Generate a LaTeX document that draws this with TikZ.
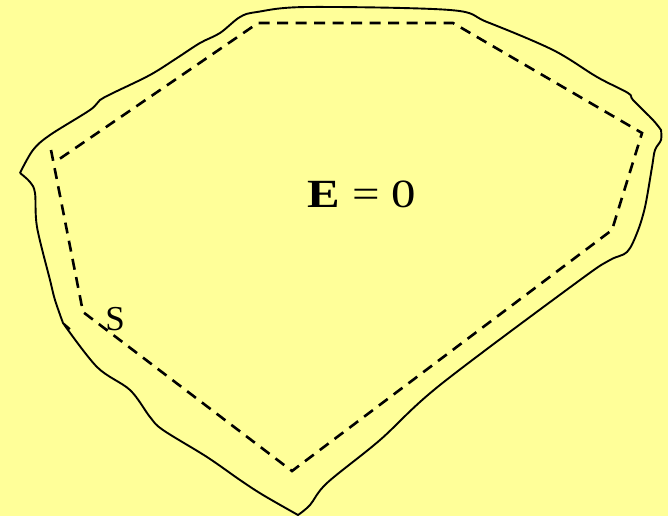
\documentclass[tikz,border=0pt]{standalone}
\usepackage{fontspec}
\setmainfont{Liberation Serif}
\usepackage{xcolor}
\definecolor{slidebg}{HTML}{FFFF99}

\begin{document}
\begin{tikzpicture}[
  x=1pt, y=-1pt,
  outline/.style={line width=1.9pt, line join=round},
  gauss/.style={line width=2.6pt, dash pattern=on 11pt off 7.5pt},
  tag/.style={inner sep=0pt, font=\fontsize{35}{42}\selectfont}
]
  \fill[slidebg] (0,0) rectangle (668,516);
  \useasboundingbox (0,0) rectangle (668,516);
  % hand drawn boundary of the conductor
  \draw[outline] plot[smooth, tension=.55] coordinates {(20,173) (33,150) (50,135) (90,110) (100,100)
      (113,93) (150,75) (177,58) (200,43) (220,33) (240,17) (257,12) (307,7) (450,10) (487,22)
      (553,50) (597,77) (628,93) (633,100) (653,120) (661,130)}
    -- plot[smooth, tension=.55] coordinates {(661,130) (661,140) (655,150) (652,167) (645,207)
      (637,233) (627,252) (610,260) (580,280) (440,385) (380,440) (327,483) (310,505) (298,515)}
    -- plot[smooth, tension=.55] coordinates {(298,515) (263,495) (240,480) (207,457) (163,430)
      (150,417) (130,390) (97,367) (63,323)}
    -- (70,329) (63,323)
    -- plot[smooth, tension=.55] coordinates {(63,323) (55,300) (50,280) (37,227) (35,193) (30,182) (20,173)};
  % gaussian surface
  \coordinate (p1) at (51,150);
  \coordinate (p2) at (83,312);
  \coordinate (p3) at (292,471);
  \coordinate (p4) at (612,230);
  \coordinate (p5) at (642,133);
  \coordinate (p6) at (453,23);
  \coordinate (p7) at (258,23);
  \coordinate (p8) at (55,162);
  \draw[gauss] (p1) -- (p2) -- (p3) -- (p4) -- (p5) -- (p6) -- (p7) -- (p8);
  \node[tag, anchor=base] (field) at (362,207) {\fontsize{40}{48}\selectfont\scalebox{1.22}[1]{\textbf{E} = 0}};
  \node[tag, anchor=base] (surf) at (115,330) {S};
\end{tikzpicture}
\end{document}
